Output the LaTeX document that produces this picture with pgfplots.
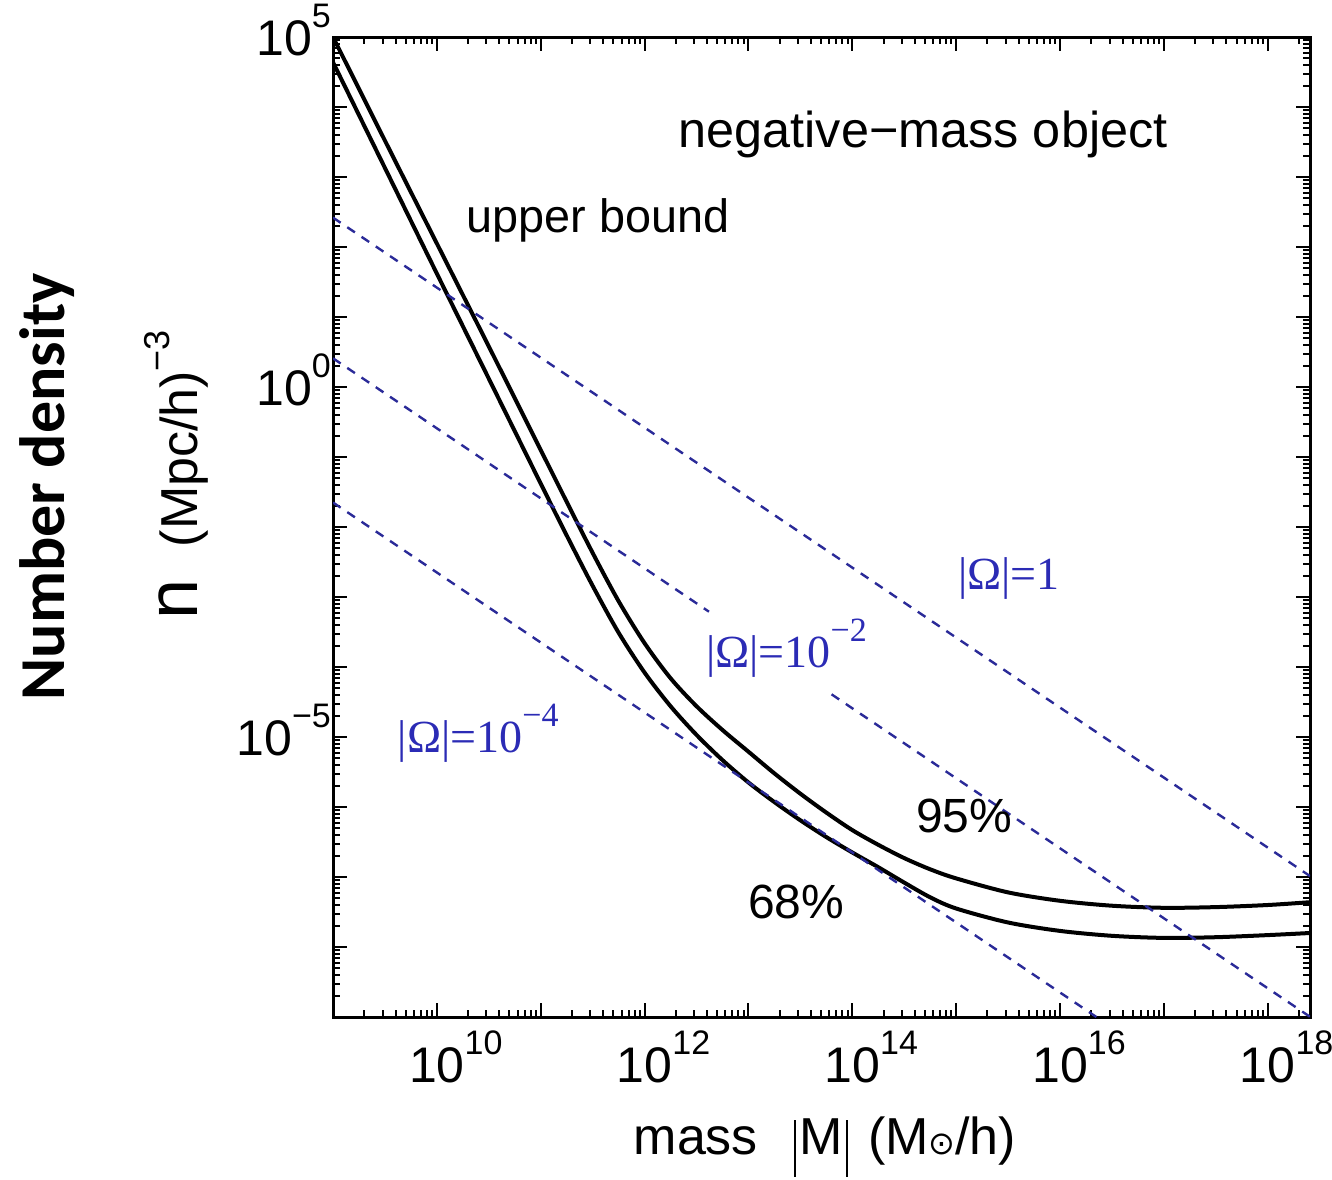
\documentclass[border=0pt]{standalone}
\usepackage{fontspec}
\setmainfont{Liberation Sans}
\newfontfamily\timesf{Liberation Serif}
\newfontfamily\calibf{Carlito}
\newfontfamily\symf{DejaVu Sans}
\usepackage{pgfplots}
\pgfplotsset{compat=1.18}
\definecolor{omegablue}{HTML}{2B2BB5}
\definecolor{dashblue}{HTML}{2A2A98}

\newcommand\tsup[1]{\raisebox{7pt}{\fontsize{8.5}{8.5}\selectfont #1}}
\newcommand\osup[1]{\raisebox{6.5pt}{\fontsize{8.5}{8.5}\selectfont #1}}
\newcommand\omlab[1]{{\timesf\fontsize{11.5}{11.5}\selectfont |Ω|=#1}}
\newcommand\vbar{\rule[-5.5pt]{0.55pt}{14.3pt}}

% minor log ticks 2..9 in every decade
\def\minorx{2e9}
\foreach \e in {9,...,18}{\foreach \m in {2,...,9}{\xdef\minorx{\minorx,\m e\e}}}
\def\minory{2e-9}
\foreach \e in {-9,...,4}{\foreach \m in {2,...,9}{\xdef\minory{\minory,\m e\e}}}

\begin{document}
\begin{tikzpicture}
\useasboundingbox (-83.25pt,-40.75pt) rectangle (249.75pt,254.25pt);
\begin{axis}[
  scale only axis,
  width=244.25pt, height=245pt,
  xmode=log, ymode=log,
  xmin=1e9, xmax=2.55e18,
  ymin=1e-9, ymax=1e5,
  xtick={1e9,1e10,1e11,1e12,1e13,1e14,1e15,1e16,1e17,1e18},
  xticklabels={{},10\rlap{\tsup{10}},{},10\rlap{\tsup{12}},{},10\rlap{\tsup{14}},{},10\rlap{\tsup{16}},{},10\rlap{\tsup{18}}},
  ytick={1e-9,1e-8,1e-7,1e-6,1e-5,1e-4,1e-3,1e-2,1e-1,1e0,1e1,1e2,1e3,1e4,1e5},
  yticklabels={{},{},{},{},10\tsup{−5},{},{},{},{},10\tsup{0},{},{},{},{},10\tsup{5}},
  minor xtick/.expanded={\minorx},
  minor ytick/.expanded={\minory},
  major tick length=3.5pt,
  minor tick length=1.8pt,
  tick style={line width=0.5pt,black},
  axis line style={line width=0.75pt},
  xticklabel style={font=\fontsize{12.5}{12.5}\selectfont,yshift=0pt},
  yticklabel style={font=\fontsize{12.5}{12.5}\selectfont,anchor=base east,yshift=-4.5pt,xshift=3pt},
  clip mode=individual,
]
% upper bound, 95%
\addplot[black,line width=1pt,smooth] coordinates {
  (1e9,1e5) (3.162e9,3.311e3) (1e10,1.122e2) (3.162e10,3.802e0)
  (1e11,1.259e-1) (1.778e11,2.291e-2) (3.162e11,4.266e-3) (5.623e11,8.710e-4)
  (1e12,2.188e-4) (1.778e12,6.918e-5) (3.162e12,2.754e-5) (5.623e12,1.259e-5)
  (1e13,6.166e-6) (1.778e13,3.020e-6) (3.162e13,1.549e-6) (5.623e13,8.318e-7)
  (1e14,4.677e-7) (1.778e14,2.884e-7) (3.162e14,1.862e-7) (5.623e14,1.288e-7)
  (1e15,9.550e-8) (3.162e15,6.026e-8) (1e16,4.571e-8) (3.162e16,3.890e-8)
  (1e17,3.631e-8) (3.162e17,3.715e-8) (1e18,3.981e-8) (2.55e18,4.365e-8)
};
% upper bound, 68%
\addplot[black,line width=1pt,smooth] coordinates {
  (1e9,4.365e4) (3.162e9,1.349e3) (1e10,4.169e1) (3.162e10,1.318e0)
  (1e11,4.169e-2) (1.778e11,7.586e-3) (3.162e11,1.445e-3) (5.623e11,3.090e-4)
  (1e12,8.318e-5) (1.778e12,2.754e-5) (3.162e12,1.072e-5) (5.623e12,4.677e-6)
  (1e13,2.239e-6) (1.778e13,1.175e-6) (3.162e13,6.457e-7) (5.623e13,3.715e-7)
  (1e14,2.239e-7) (1.778e14,1.380e-7) (3.162e14,8.318e-8) (5.623e14,5.129e-8)
  (1e15,3.548e-8) (3.162e15,2.239e-8) (1e16,1.698e-8) (3.162e16,1.445e-8)
  (1e17,1.349e-8) (3.162e17,1.380e-8) (1e18,1.479e-8) (2.55e18,1.585e-8)
};
% |Omega| lines
\addplot[dashblue,line width=0.6pt,dash pattern=on 2.3pt off 2pt] coordinates {(1e9,2.630e2) (2.55e18,1.031e-7)};
\addplot[dashblue,line width=0.6pt,dash pattern=on 2.3pt off 2pt] coordinates {(1e9,2.570e0) (4.169e12,6.166e-4)};
\addplot[dashblue,line width=0.6pt,dash pattern=on 2.3pt off 2pt] coordinates {(6.310e13,4.074e-5) (2.55e18,1.008e-9)};
\addplot[dashblue,line width=0.6pt,dash pattern=on 2.3pt off 2pt] coordinates {(1e9,2.239e-2) (2.239e16,1e-9)};

\node[anchor=base west,inner sep=0pt,font=\fontsize{12.6}{12.6}\selectfont] at (rel axis cs:0.353,0.887) {negative−mass object};
\node[anchor=base west,inner sep=0pt,font=\fontsize{11.7}{11.7}\selectfont] at (rel axis cs:0.136,0.801) {upper bound};
\node[anchor=base west,inner sep=0pt,font=\fontsize{12}{12}\selectfont] at (rel axis cs:0.596,0.188) {95\%};
\node[anchor=base west,inner sep=0pt,font=\fontsize{12}{12}\selectfont] at (rel axis cs:0.424,0.100) {68\%};
\node[anchor=base west,inner sep=0pt,text=omegablue] at (rel axis cs:0.639,0.436) {\omlab{1}};
\node[anchor=base west,inner sep=0pt,text=omegablue] at (rel axis cs:0.381,0.357) {\omlab{10\osup{−2}}};
\node[anchor=base west,inner sep=0pt,text=omegablue] at (rel axis cs:0.0655,0.270) {\omlab{10\osup{−4}}};

\node[anchor=base west,inner sep=0pt,font=\fontsize{13}{13}\selectfont] at (rel axis cs:0.307,-0.1408)
  {mass\hspace{9pt}\vbar\hspace{0.8pt}M\hspace{0.8pt}\vbar\hspace{5pt}(M{\symf\fontsize{8}{8}\selectfont ⊙}/h)};
\node[rotate=90,anchor=base west,inner sep=0pt] at (rel axis cs:-0.139,0.405)
  {{\fontsize{18}{18}\selectfont n}\hspace{8pt}{\fontsize{13}{13}\selectfont (Mpc/h)\raisebox{7pt}{\fontsize{9}{9}\selectfont −3}}};
\node[rotate=90,inner sep=0pt,font=\calibf\bfseries\fontsize{16}{16}\selectfont] at (rel axis cs:-0.2927,0.541) {Number density};
\end{axis}
\end{tikzpicture}
\end{document}
